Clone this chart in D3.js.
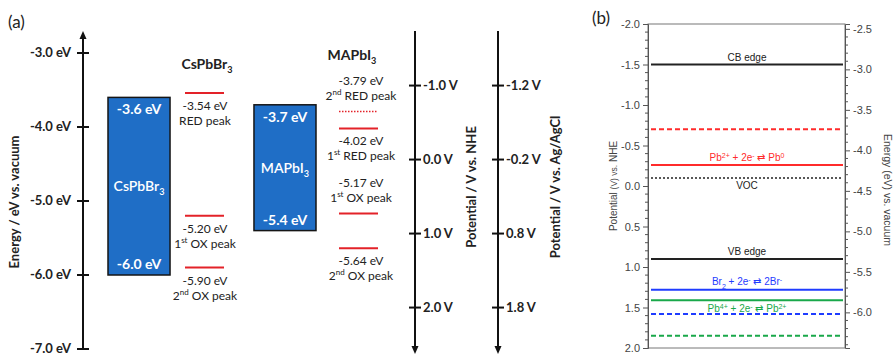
<!DOCTYPE html>
<html><head><meta charset="utf-8">
<script src="https://cdn.jsdelivr.net/npm/d3@7"></script>
<style>html,body{margin:0;padding:0;background:#fff;}svg{display:block;}</style>
</head><body>
<svg id="chart" width="895" height="355"></svg>
<script>
// ---------- Panel (a) data ----------
const energyTicks = [-3, -4, -5, -6, -7];
const materials = ["CsPbBr", "MAPbI"];
const cbEdges = [-3.6, -3.7];
const vbEdges = [-6.0, -5.4];
const csPeaks = [-3.54, -5.20, -5.90];
const csPeakNames = [["RED peak", ""], ["OX peak", "st", "1"], ["OX peak", "nd", "2"]];
const maPeaks = [-3.79, -4.02, -5.17, -5.64];
const maPeakNames = [["RED peak", "nd", "2"], ["RED peak", "st", "1"], ["OX peak", "st", "1"], ["OX peak", "nd", "2"]];
const maPeakSide = ["above", "below", "above", "below"];
const maPeakDotted = [true, false, false, false];
const nheTicks = [-1, 0, 1, 2];
const agTicks = [-1.2, -0.2, 0.8, 1.8];

// ---------- Panel (b) data ----------
const levelPotentials = [-1.5, -0.70, -0.26, -0.10, 0.90, 1.28, 1.41, 1.58, 1.85];
const levelColors = ["#222", "#ff2b2b", "#ff2b2b", "#222", "#222", "#1f3cff", "#19a84a", "#1f3cff", "#19a84a"];
const levelDash = ["", "5,3", "", "2,2", "", "", "", "5,3", "5,3"];
const bMajorTicks = [-2.0, -1.5, -1.0, -0.5, 0.0, 0.5, 1.0, 1.5, 2.0];
const bEnergyTicks = [-2.5, -3.0, -3.5, -4.0, -4.5, -5.0, -5.5, -6.0];

const svg = d3.select("#chart");
const fA = "Lato, 'Open Sans', sans-serif";
const fB = "'Liberation Sans', Arial, sans-serif";

// ======== Panel (a) ========
const yE = d3.scaleLinear().domain([-3, -7]).range([53, 349]);
const yN = d3.scaleLinear().domain([-1, 2]).range([yE(-3.44), yE(-6.44)]);
const yAg = d3.scaleLinear().domain([-1.2, 1.8]).range([yE(-3.44), yE(-6.44)]);
const xBox = d3.scaleBand().domain(materials).range([108, 316]).paddingInner(0.575).paddingOuter(0);

svg.append("text").attr("x", 8).attr("y", 28).attr("font-family", fA).attr("font-size", 17).attr("fill", "#222").text("(a)");

// Energy axis
const axE = svg.append("g");
axE.append("line").attr("x1", 83).attr("x2", 83).attr("y1", 36).attr("y2", yE(-7)).attr("stroke", "#111").attr("stroke-width", 2);
axE.append("path").attr("d", "M83,31 L79.5,39 L86.5,39 Z").attr("fill", "#111");
axE.selectAll("line.t").data(energyTicks).join("line").attr("class", "t")
  .attr("x1", 77).attr("x2", 89).attr("y1", d => yE(d)).attr("y2", d => yE(d)).attr("stroke", "#111").attr("stroke-width", 2);
axE.selectAll("text").data(energyTicks).join("text")
  .attr("x", 71).attr("y", d => yE(d)).attr("dy", "0.32em").attr("text-anchor", "end")
  .attr("font-family", fA).attr("font-weight", 700).attr("font-size", 13).attr("fill", "#222")
  .text(d => d.toFixed(1) + " eV");
svg.append("text").attr("transform", "translate(19,202) rotate(-90)").attr("text-anchor", "middle")
  .attr("font-family", fA).attr("font-weight", 700).attr("font-size", 13).attr("fill", "#222")
  .text("Energy / eV vs. vacuum");

function subText(sel, base, sub, opts) {
  const t = sel.append("text").attr("x", opts.x).attr("y", opts.y).attr("text-anchor", "middle")
    .attr("font-family", fA).attr("font-size", opts.size).attr("font-weight", opts.weight || 400).attr("fill", opts.fill);
  t.append("tspan").text(base);
  t.append("tspan").attr("font-size", opts.size * 0.65).attr("dy", opts.size * 0.3).text(sub);
  return t;
}

// Band boxes
materials.forEach((m, i) => {
  const x0 = xBox(m), w = xBox.bandwidth();
  svg.append("rect").attr("x", x0).attr("y", yE(cbEdges[i])).attr("width", w)
    .attr("height", yE(vbEdges[i]) - yE(cbEdges[i])).attr("fill", "#1f6ec6").attr("stroke", "#151515").attr("stroke-width", 1.5);
  const cx = x0 + w / 2;
  svg.append("text").attr("x", cx).attr("y", yE(cbEdges[i]) + 17).attr("text-anchor", "middle")
    .attr("font-family", fA).attr("font-weight", 700).attr("font-size", 14).attr("fill", "#fff").text(cbEdges[i].toFixed(1) + " eV");
  svg.append("text").attr("x", cx).attr("y", yE(vbEdges[i]) - 6).attr("text-anchor", "middle")
    .attr("font-family", fA).attr("font-weight", 700).attr("font-size", 14).attr("fill", "#fff").text(vbEdges[i].toFixed(1) + " eV");
  const mid = (yE(cbEdges[i]) + yE(vbEdges[i])) / 2;
  subText(svg, m, "3", {x: cx, y: mid + 5, size: 14, fill: "#fff", weight: 600});
});

// Peak columns
function peakLabel(cx, yTop, val, name) {
  svg.append("text").attr("x", cx).attr("y", yTop).attr("text-anchor", "middle").attr("dy", "0.35em")
    .attr("font-family", fA).attr("font-size", 12).attr("fill", "#222").text(val.toFixed(2) + " eV");
  const t = svg.append("text").attr("x", cx).attr("y", yTop + 15).attr("text-anchor", "middle").attr("dy", "0.35em")
    .attr("font-family", fA).attr("font-size", 12).attr("fill", "#222");
  if (name[2]) {
    t.append("tspan").text(name[2]);
    t.append("tspan").attr("font-size", 8).attr("dy", -5).text(name[1]);
    t.append("tspan").attr("dy", 5).text(" " + name[0]);
  } else {
    t.text(name[0]);
  }
}
const csX = [185, 224], csCx = 205;
subText(svg, "CsPbBr", "3", {x: 207, y: 69, size: 14, fill: "#222", weight: 700});
csPeaks.forEach((p, i) => {
  svg.append("line").attr("x1", csX[0]).attr("x2", csX[1]).attr("y1", yE(p)).attr("y2", yE(p)).attr("stroke", "#e32229").attr("stroke-width", 2);
  peakLabel(csCx, yE(p) + 13, p, csPeakNames[i]);
});
const maX = [339, 378], maCx = 361;
subText(svg, "MAPbI", "3", {x: 352, y: 60, size: 14, fill: "#222", weight: 700});
maPeaks.forEach((p, i) => {
  svg.append("line").attr("x1", maX[0]).attr("x2", maX[1]).attr("y1", yE(p)).attr("y2", yE(p))
    .attr("stroke", "#e32229").attr("stroke-width", maPeakDotted[i] ? 1.5 : 2).attr("stroke-dasharray", maPeakDotted[i] ? "1.5,1.5" : null);
  const top = maPeakSide[i] === "above" ? yE(p) - 31 : yE(p) + 12;
  peakLabel(maCx, top, p, maPeakNames[i]);
});

// Potential axes
function potAxis(x, scale, ticks, title, titleX) {
  const g = svg.append("g");
  g.append("line").attr("x1", x).attr("x2", x).attr("y1", 31).attr("y2", 348).attr("stroke", "#111").attr("stroke-width", 2);
  g.append("path").attr("d", `M${x},354 L${x - 3.5},346 L${x + 3.5},346 Z`).attr("fill", "#111");
  g.selectAll("line.t").data(ticks).join("line").attr("class", "t")
    .attr("x1", x - 6).attr("x2", x + 6).attr("y1", d => scale(d)).attr("y2", d => scale(d)).attr("stroke", "#111").attr("stroke-width", 2);
  g.selectAll("text").data(ticks).join("text")
    .attr("x", x + 8).attr("y", d => scale(d)).attr("dy", "0.35em")
    .attr("font-family", fA).attr("font-weight", 700).attr("font-size", 13).attr("fill", "#222")
    .text(d => d.toFixed(1) + " V");
  svg.append("text").attr("transform", `translate(${titleX},187) rotate(-90)`).attr("text-anchor", "middle")
    .attr("font-family", fA).attr("font-weight", 700).attr("font-size", 13).attr("fill", "#222").text(title);
}
potAxis(415, yN, nheTicks, "Potential / V vs. NHE", 476);
potAxis(498, yAg, agTicks, "Potential / V vs. Ag/AgCl", 560);

// ======== Panel (b) ========
const bx0 = 648, bx1 = 845;
const yV = d3.scaleLinear().domain([-2, 2]).range([24, 348]);
const yEb = d3.scaleLinear().domain([-4.44 + 2, -4.44 - 2]).range([24, 348]);

svg.append("text").attr("x", 592).attr("y", 24).attr("font-family", fA).attr("font-size", 17).attr("fill", "#222").text("(b)");

svg.append("rect").attr("x", bx0).attr("y", 24).attr("width", bx1 - bx0).attr("height", 324)
  .attr("fill", "none").attr("stroke", "#777").attr("stroke-width", 1);

const leftAxis = d3.axisLeft(yV).tickValues(bMajorTicks).tickSize(5).tickFormat(d => d.toFixed(1));
const gL = svg.append("g").attr("transform", `translate(${bx0},0)`).call(leftAxis);
gL.append("g").selectAll("line").data(d3.range(-20, 21).filter(k => k % 5 !== 0).map(k => k / 10)).join("line")
  .attr("x1", -3).attr("x2", 0).attr("y1", d => yV(d)).attr("y2", d => yV(d)).attr("stroke", "#555");
const rightAxis = d3.axisRight(yEb).tickValues(bEnergyTicks).tickSize(5).tickFormat(d => d.toFixed(1));
const gR = svg.append("g").attr("transform", `translate(${bx1},0)`).call(rightAxis);
gR.append("g").selectAll("line").data(d3.range(-64, -24).filter(k => k % 5 !== 0).map(k => k / 10)).join("line")
  .attr("x1", 0).attr("x2", 3).attr("y1", d => yEb(d)).attr("y2", d => yEb(d)).attr("stroke", "#555");
[gL, gR].forEach(g => {
  g.select(".domain").attr("stroke", "#555");
  g.selectAll(".tick line").attr("stroke", "#555");
  g.selectAll(".tick text").attr("font-family", fB).attr("font-size", 11).attr("fill", "#444");
});

const tl = svg.append("text").attr("transform", "translate(617,186) rotate(-90)").attr("text-anchor", "middle")
  .attr("font-family", fB).attr("font-size", 10).attr("fill", "#444");
tl.append("tspan").text("Potential ");
tl.append("tspan").attr("font-size", 8.5).text("(V) vs.");
tl.append("tspan").text(" NHE");
svg.append("text").attr("transform", "translate(884,190) rotate(90)").attr("text-anchor", "middle")
  .attr("font-family", fB).attr("font-size", 10.5).attr("fill", "#444").text("Energy (eV) vs. vacuum");

svg.append("g").selectAll("line").data(levelPotentials).join("line")
  .attr("x1", bx0 + 3).attr("x2", bx1 - 2).attr("y1", d => yV(d)).attr("y2", d => yV(d))
  .attr("stroke", (d, i) => levelColors[i]).attr("stroke-width", (d, i) => levelDash[i] === "2,2" ? 1.5 : 2)
  .attr("stroke-dasharray", (d, i) => levelDash[i] || null);

const lcx = 747;
function bLabel(parts, y, color) {
  const t = svg.append("text").attr("x", lcx).attr("y", y).attr("text-anchor", "middle")
    .attr("font-family", fB).attr("font-size", 10).attr("fill", color);
  parts.forEach(p => {
    const s = t.append("tspan").text(p[0]);
    if (p[1] === "sup") s.attr("font-size", 7).attr("baseline-shift", "super");
    if (p[1] === "sub") s.attr("font-size", 7).attr("baseline-shift", "sub");
  });
}
bLabel([["CB edge"]], yV(-1.5) - 4, "#222");
bLabel([["Pb"], ["2+", "sup"], [" + 2e"], ["-", "sup"], [" \u21C4 Pb"], ["0", "sup"]], yV(-0.26) - 4, "#ff2b2b");
bLabel([["VOC"]], yV(-0.10) + 11, "#222");
bLabel([["VB edge"]], yV(0.90) - 4, "#222");
bLabel([["Br"], ["2", "sub"], [" + 2e"], ["-", "sup"], [" \u21C4 2Br"], ["-", "sup"]], yV(1.28) - 5, "#1f3cff");
bLabel([["Pb"], ["4+", "sup"], [" + 2e"], ["-", "sup"], [" \u21C4 Pb"], ["2+", "sup"]], yV(1.41) + 12, "#19a84a");
</script>
</body></html>
